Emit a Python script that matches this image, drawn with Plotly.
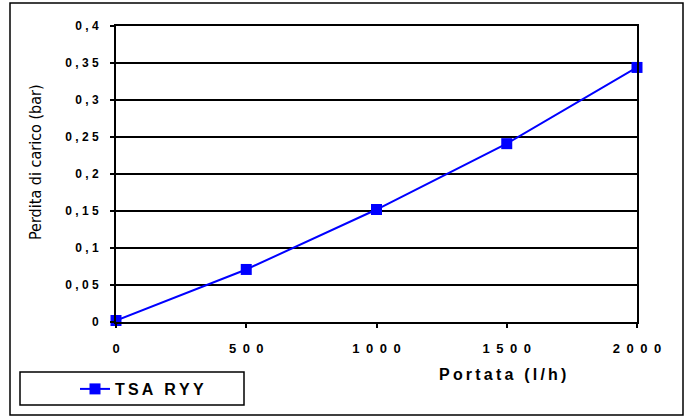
import plotly.graph_objects as go

# ---- data ----
portata = [0, 500, 1000, 1500, 2000]
perdita = [0.002, 0.071, 0.152, 0.241, 0.344]
series_name = "TSA RYY"
y_tick_vals = [0, 0.05, 0.1, 0.15, 0.2, 0.25, 0.3, 0.35, 0.4]
y_tick_labels = ["0", "0,05", "0,1", "0,15", "0,2", "0,25", "0,3", "0,35", "0,4"]
x_tick_vals = [0, 500, 1000, 1500, 2000]
x_tick_labels = ["0", "500", "1000", "1500", "2000"]
x_title = "Portata (l/h)"
y_title = "Perdita di carico (bar)"

W, H = 691, 417
L, R, T, B = 116, 637, 26, 322  # plot area pixels


def spaced(s, sep):
    return sep.join(list(s))


def px(x):
    return (x - L) / (R - L)


def py(y):
    return (B - y) / (B - T)


BOLD = "Liberation Sans, Arial, sans-serif"
NARROW = "Liberation Sans Narrow, Arial Narrow, DejaVu Sans Condensed, sans-serif"

fig = go.Figure()
fig.add_trace(go.Scatter(
    x=portata, y=perdita, name=spaced(series_name, "\u2009"),
    mode="lines+markers",
    line=dict(color="#0000FF", width=2),
    marker=dict(symbol="square", size=11, color="#0000FF"),
    cliponaxis=False,
))

fig.update_layout(
    width=W, height=H,
    margin=dict(l=L, r=W - R, t=T, b=H - B, autoexpand=False),
    paper_bgcolor="white", plot_bgcolor="white",
    showlegend=True,
    legend=dict(x=px(75), y=py(389), xanchor="left", yanchor="middle",
                bgcolor="rgba(0,0,0,0)", borderwidth=0,
                font=dict(family=BOLD, size=16, color="black", weight="bold")),
    xaxis=dict(range=[0, 2000], tickvals=x_tick_vals,
               ticktext=[spaced(t, "\u2002") for t in x_tick_labels],
               showgrid=False, zeroline=False,
               showline=True, linecolor="black", linewidth=2, mirror=True,
               ticks="outside", ticklen=4, tickwidth=2, tickcolor="black",
               ticklabelstandoff=9,
               tickfont=dict(family=BOLD, size=13, color="black", weight="bold")),
    yaxis=dict(range=[0, 0.4], tickvals=y_tick_vals,
               ticktext=[spaced(t, " ") for t in y_tick_labels],
               showgrid=True, gridcolor="black", gridwidth=1.5, zeroline=False,
               showline=True, linecolor="black", linewidth=2, mirror=True,
               ticks="outside", ticklen=4, tickwidth=2, tickcolor="black",
               ticklabelstandoff=9,
               tickfont=dict(family=BOLD, size=12, color="black", weight="bold")),
    shapes=[
        dict(type="rect", xref="paper", yref="paper",
             x0=px(10), x1=px(683), y0=py(415), y1=py(3),
             line=dict(color="black", width=1.5), layer="below"),
        dict(type="rect", xref="paper", yref="paper",
             x0=px(20), x1=px(244), y0=py(405), y1=py(372),
             line=dict(color="black", width=1.5)),
    ],
    annotations=[
        dict(text=spaced(x_title, "\u2009"), xref="paper", yref="paper",
             x=px(502), y=py(374), xanchor="center", yanchor="middle",
             showarrow=False,
             font=dict(family=BOLD, size=16, color="black", weight="bold")),
        dict(text=y_title, xref="paper", yref="paper",
             x=px(35), y=py(162), xanchor="center", yanchor="middle",
             textangle=-90, showarrow=False,
             font=dict(family=NARROW, size=16, color="black")),
    ],
)

fig.write_html("out.html", config={"displayModeBar": False},
               post_script="document.body.style.margin='0';document.body.style.overflow='hidden';")
